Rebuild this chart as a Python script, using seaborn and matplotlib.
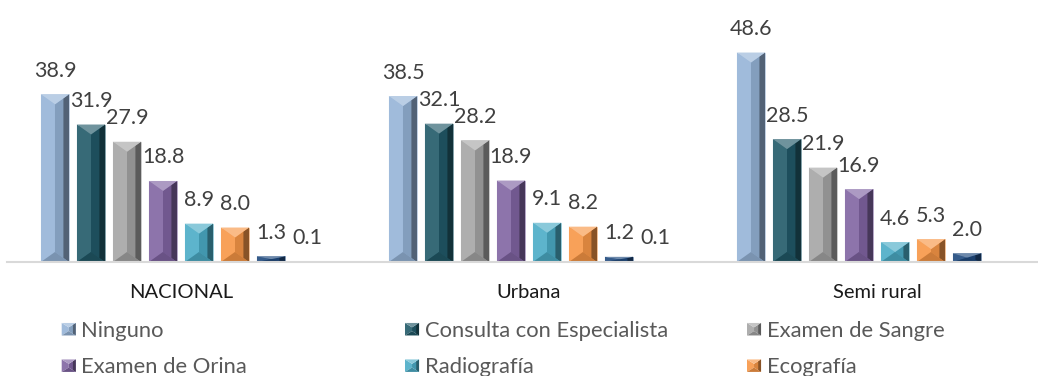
import numpy as np
import pandas as pd
import matplotlib
matplotlib.use("Agg")
import matplotlib.pyplot as plt
import matplotlib.colors as mcolors
from matplotlib.patches import Polygon
from matplotlib.legend_handler import HandlerBase
import seaborn as sns

# ---- data -------------------------------------------------------------
zonas = ["NACIONAL", "Urbana", "Semi rural"]
examenes = ["Ninguno", "Consulta con Especialista", "Examen de Sangre",
            "Examen de Orina", "Radiografía", "Ecografía", "Serie 7", "Serie 8"]
ninguno = [38.9, 38.5, 48.6]
consulta = [31.9, 32.1, 28.5]
sangre = [27.9, 28.2, 21.9]
orina = [18.8, 18.9, 16.9]
radiografia = [8.9, 9.1, 4.6]
ecografia = [8.0, 8.2, 5.3]
serie7 = [1.3, 1.2, 2.0]
serie8 = [0.1, 0.1, np.nan]
colores = ["#95B3D7", "#215968", "#A5A5A5", "#8064A2",
           "#4BACC6", "#F79646", "#1F497D", "#953735"]
en_leyenda = examenes[:6]

series = [ninguno, consulta, sangre, orina, radiografia, ecografia, serie7, serie8]
rows = []
for nombre, vals in zip(examenes, series):
    for zona, v in zip(zonas, vals):
        rows.append({"zona": zona, "examen": nombre, "valor": v})
df = pd.DataFrame(rows).dropna()

# ---- style ------------------------------------------------------------
sns.set_style("white")
plt.rcParams["font.family"] = ["Lato", "DejaVu Sans"]

W, H, DPI = 1038, 376, 100
fig = plt.figure(figsize=(W / DPI, H / DPI), dpi=DPI)
YMAX = 50
ax_left, ax_w = 7, 1044
ax_bottom, ax_h = 376 - 262, 215.5
ax = fig.add_axes([ax_left / W, ax_bottom / H, ax_w / W, ax_h / H])

sns.barplot(data=df, x="zona", y="valor", hue="examen", order=zonas,
            hue_order=examenes, palette=colores, saturation=1,
            width=0.8276, gap=0.22, errorbar=None, legend=False, ax=ax)

ax.set_xlim(-0.5, 2.5)
ax.set_ylim(0, YMAX)


def lighten(c, f):
    r = np.array(mcolors.to_rgb(c))
    return tuple(r + (1 - r) * f)


def darken(c, f):
    r = np.array(mcolors.to_rgb(c))
    return tuple(r * (1 - f))


def bevel_polys(x0, y0, w, h, dy):
    xc = x0 + w / 2
    x1 = x0 + w
    y1 = y0 + h
    e = w * 0.2
    return [
        ([(x0, y0), (x0, y1), (xc, y1 - dy), (xc, y0 + dy)], 0.10, "l"),
        ([(x1, y0), (x1, y1), (xc, y1 - dy), (xc, y0 + dy)], 0.12, "d"),
        ([(x1 - e, y0 + dy * e / (w / 2)), (x1, y0), (x1, y1), (x1 - e, y1 - dy * e / (w / 2))], 0.45, "d"),
        ([(x0, y1), (x1, y1), (xc, y1 - dy)], 0.35, "l"),
        ([(x0, y0), (x1, y0), (xc, y0 + dy)], 0.18, "d"),
    ]


# bevelled look on every bar, plus its value label
units_per_px = YMAX / ax_h
bars = [p for p in ax.patches]
for p in bars:
    h = p.get_height()
    if not np.isfinite(h) or h <= 0:
        continue
    base = p.get_facecolor()
    x0, w = p.get_x(), p.get_width()
    dy = min(10 * units_per_px, h / 2)
    p.set_edgecolor(lighten(base, 0.5))
    p.set_linewidth(0.6)
    for pts, f, kind in bevel_polys(x0, 0, w, h, dy):
        col = lighten(base, f) if kind == "l" else darken(base, f)
        ax.add_patch(Polygon(pts, closed=True, facecolor=col, edgecolor="none", zorder=p.get_zorder() + 0.1))
    ax.annotate(f"{h:.1f}", (x0 + w / 2, h), xytext=(0, 12.6), textcoords="offset points",
                ha="center", va="baseline", fontsize=15.5, color="#404040", annotation_clip=False)

# axes decoration
for s in ["top", "right", "left"]:
    ax.spines[s].set_visible(False)
ax.spines["bottom"].set_color("#d9d9d9")
ax.spines["bottom"].set_linewidth(1.5)
ax.set_yticks([])
ax.set_xlabel("")
ax.set_ylabel("")
ax.tick_params(axis="x", length=0, pad=16, labelsize=14.5, labelcolor="#1a1a1a")


class BevelHandler(HandlerBase):
    def create_artists(self, legend, orig_handle, xdescent, ydescent, width, height, fontsize, trans):
        base = orig_handle.get_facecolor()
        arts = []
        for pts, f, kind in bevel_polys(-xdescent, -ydescent, width, height, height * 0.35):
            col = lighten(base, f) if kind == "l" else darken(base, f)
            arts.append(Polygon(pts, closed=True, facecolor=col, edgecolor="none", transform=trans))
        return arts


# legend: three columns of two entries each
col_x = [61.7, 405, 747]
top_y = 376 - 321
for c in range(3):
    names = en_leyenda[c::3]
    handles = [plt.Rectangle((0, 0), 1, 1, facecolor=colores[examenes.index(n)]) for n in names]
    fig.legend(handles, names, loc="upper left",
               bbox_to_anchor=(col_x[c] / W, top_y / H), frameon=False,
               fontsize=15.8, labelcolor="#595959", borderpad=0, borderaxespad=0,
               handlelength=0.64, handleheight=0.5, handletextpad=0.25, labelspacing=0.75,
               handler_map={plt.Rectangle: BevelHandler()})

fig.savefig("out.png", dpi=DPI)
